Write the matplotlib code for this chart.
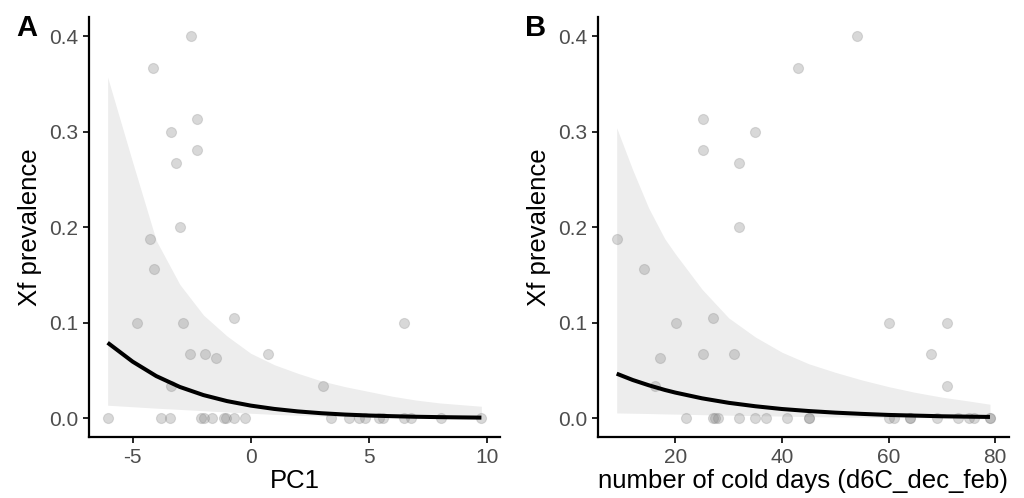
import matplotlib
matplotlib.use("Agg")
import matplotlib.pyplot as plt
import numpy as np

plt.rcParams['font.family'] = ['Liberation Sans', 'DejaVu Sans']
plt.rcParams['axes.unicode_minus'] = False

# ---- data: panel A (PC1) ----
pc1_x = [-6.06, -3.78, -3.43, -2.12, -1.98, -1.62, -1.14, -1.06, -0.72, -0.25,
         3.42, 4.17, 4.58, 4.83, 5.42, 5.60, 6.50, 6.81, 8.05, 9.78,
         -2.54, -4.14, -2.27, -3.36, -2.27, -3.18, -3.01, -4.25, -4.10,
         -4.83, -2.85, 6.48, -0.72, -2.56, -1.95, 0.75, -1.47, -3.39, 3.05]
pc1_y = [0.0] * 20 + [0.400, 0.367, 0.313, 0.300, 0.281, 0.267, 0.200, 0.1875, 0.156,
                      0.100, 0.100, 0.100, 0.105, 0.0667, 0.0667, 0.0667, 0.0625, 0.0333, 0.0333]

# fitted curve and confidence band
pc1_fit_x = [-6.06, -5, -4, -3, -2, -1, 0, 1, 2, 3, 4, 5, 6, 7, 8, 9, 9.78]
pc1_fit = [0.079, 0.0592, 0.0441, 0.0327, 0.0242, 0.0179, 0.0132, 0.0097, 0.0071,
           0.0052, 0.0038, 0.0028, 0.0021, 0.0015, 0.0011, 0.0008, 0.0006]
pc1_hi = [0.357, 0.268, 0.186, 0.140, 0.108, 0.086, 0.068, 0.056, 0.047,
          0.039, 0.033, 0.028, 0.023, 0.019, 0.016, 0.014, 0.0125]
pc1_lo = [0.0136, 0.0120, 0.0105, 0.0092, 0.0078, 0.0065, 0.0052, 0.0040, 0.0030,
          0.0022, 0.0016, 0.0011, 0.0008, 0.0005, 0.0003, 0.0002, 0.0001]

# ---- data: panel B (cold days) ----
cold_x = [22, 27, 27.4, 28, 32, 35, 37, 41, 45, 45,
          60, 61, 64, 64, 69, 73, 75, 76, 79, 79,
          54, 43, 25.1, 35, 25.1, 32, 32, 9.1, 14.1,
          20.1, 60, 71, 27, 25.1, 31, 68, 17.1, 16.1, 71]
cold_y = list(pc1_y)

cold_fit_x = [9, 12, 15, 18, 20, 25, 30, 35, 40, 45, 50, 55, 60, 65, 70, 75, 79]
cold_fit = [0.0466, 0.0400, 0.0345, 0.0296, 0.0268, 0.0208, 0.0161, 0.0125, 0.0096,
            0.0075, 0.0058, 0.0045, 0.0034, 0.0027, 0.0020, 0.0016, 0.0013]
cold_hi = [0.304, 0.260, 0.220, 0.188, 0.172, 0.135, 0.105, 0.085, 0.069,
           0.057, 0.048, 0.040, 0.033, 0.027, 0.022, 0.018, 0.0146]
cold_lo = [0.0055, 0.0052, 0.0049, 0.0045, 0.0043, 0.0037, 0.0032, 0.0027, 0.0022,
           0.0017, 0.0013, 0.0010, 0.0007, 0.0005, 0.0003, 0.0002, 0.0001]

y_ticks = [0.0, 0.1, 0.2, 0.3, 0.4]
y_labels = ['0.0', '0.1', '0.2', '0.3', '0.4']

fig = plt.figure(figsize=(10.24, 4.98), dpi=100)
axA = fig.add_axes([0.0869, 0.1219, 0.4014, 0.844])
axB = fig.add_axes([0.584, 0.1219, 0.401, 0.844])


def draw(ax, x, y, fx, fit, lo, hi, xlim, xticks, xlabel):
    ax.fill_between(fx, lo, hi, color='#ededed', lw=0, zorder=1)
    ax.scatter(x, y, s=52, facecolor=(0.5, 0.5, 0.5, 0.3),
               edgecolor=(0.5, 0.5, 0.5, 0.25), linewidth=0.8, zorder=2)
    ax.plot(fx, fit, color='black', lw=2.9, solid_capstyle='butt', zorder=3)
    ax.set_xlim(*xlim)
    ax.set_ylim(-0.02, 0.42)
    ax.set_xticks(xticks)
    ax.set_yticks(y_ticks)
    ax.set_yticklabels(y_labels)
    for s in ['top', 'right']:
        ax.spines[s].set_visible(False)
    for s in ['left', 'bottom']:
        ax.spines[s].set_linewidth(1.6)
    ax.tick_params(length=4.5, width=1.2, labelsize=15, labelcolor='#4d4d4d', pad=3)
    ax.set_xlabel(xlabel, fontsize=18.5, labelpad=2)
    ax.set_ylabel('Xf prevalence', fontsize=18.5, labelpad=5)


draw(axA, pc1_x, pc1_y, pc1_fit_x, pc1_fit, pc1_lo, pc1_hi,
     (-6.85, 10.57), [-5, 0, 5, 10], 'PC1')
draw(axB, cold_x, cold_y, cold_fit_x, cold_fit, cold_lo, cold_hi,
     (5.5, 82.5), [20, 40, 60, 80], 'number of cold days (d6C_dec_feb)')

fig.text(0.016, 0.943, 'A', fontsize=21, fontweight='bold', va='center')
fig.text(0.513, 0.943, 'B', fontsize=21, fontweight='bold', va='center')

fig.savefig('out.png', dpi=100)
